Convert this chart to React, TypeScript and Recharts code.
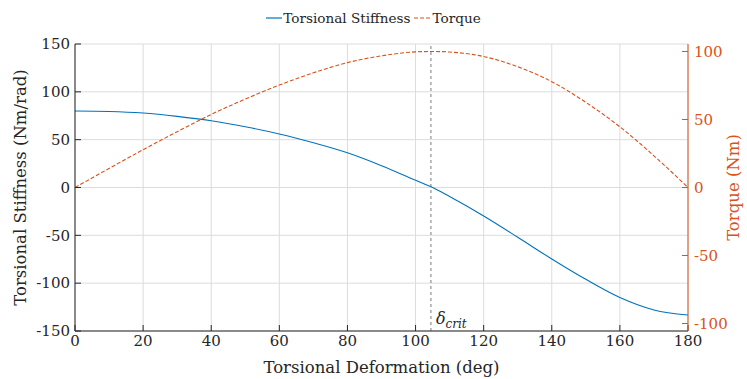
import React from 'react'
import { LineChart, Line, XAxis, YAxis, CartesianGrid, Legend, ReferenceLine } from 'recharts'

// deformation angle (deg)
const angles = [0, 10, 20, 30, 40, 50, 60, 70, 80, 90, 100, 105, 110, 120, 130, 140, 150, 160, 170, 180]
// torsional stiffness (Nm/rad)
const stiffness = [80, 79.5, 77.8, 74.3, 69.7, 63.5, 56, 46.8, 36.3, 22.8, 7.5, 0, -9.5, -29.8, -52, -74.7, -96, -115, -128, -133.3]
// torque (Nm)
const torque = [0, 14, 27.8, 41, 53.7, 65, 75.3, 84.3, 91.8, 96.8, 99.7, 100, 99.6, 96.3, 88.8, 77.8, 62.6, 44.6, 23.3, 0]
const critAngle = 104.5

const xTicks = [0, 20, 40, 60, 80, 100, 120, 140, 160, 180]
const leftTicks = [-150, -100, -50, 0, 50, 100, 150]
const rightTicks = [-100, -50, 0, 50, 100]

const BLUE = '#0072BD'
const ORANGE = '#D95319'
const DARK = '#262626'
const FONT = 'DejaVu Serif'

const data = angles.map((a, i) => ({ angle: a, stiffness: stiffness[i], torque: torque[i] }))

const renderLegend = () => (
  <div
    style={{
      display: 'flex',
      justifyContent: 'center',
      alignItems: 'center',
      fontFamily: FONT,
      fontSize: 13.6,
      color: DARK,
    }}
  >
    <svg width={17} height={10}>
      <line x1={0} y1={5} x2={16} y2={5} stroke={BLUE} strokeWidth={1.2} />
    </svg>
    <span style={{ marginRight: 3 }}>Torsional Stiffness</span>
    <svg width={19} height={10}>
      <line x1={0} y1={5} x2={18} y2={5} stroke={ORANGE} strokeWidth={1.2} strokeDasharray="4 2" />
    </svg>
    <span>Torque</span>
  </div>
)

const CritLabel = (props: any) => {
  const vb = props.viewBox
  return (
    <text x={vb.x + 5} y={vb.y + vb.height - 7} fontFamily={FONT} fontSize={16} fill={DARK} fontStyle="italic">
      δ
      <tspan dy={4} fontSize={12}>
        crit
      </tspan>
    </text>
  )
}

export default function App() {
  return (
    <div style={{ position: 'absolute', left: 0, top: 0, width: 747, height: 379, background: '#fff', fontFamily: FONT }}>
      <LineChart width={747} height={379} data={data} margin={{ top: 28, right: 0, bottom: 0, left: 0 }}>
        <CartesianGrid yAxisId="left" stroke="#dcdcdc" strokeWidth={1} />
        <XAxis
          dataKey="angle"
          type="number"
          domain={[0, 180]}
          ticks={xTicks}
          height={48}
          stroke={DARK}
          tickSize={-6}
          tickMargin={10}
          tick={{ fill: DARK, fontFamily: FONT, fontSize: 15 }}
          label={(p: any) => (
            <text
              x={p.viewBox.x + p.viewBox.width / 2}
              y={p.viewBox.y + 42}
              textAnchor="middle"
              fontFamily={FONT}
              fontSize={16.5}
              fill={DARK}
            >
              Torsional Deformation (deg)
            </text>
          )}
        />
        <YAxis
          yAxisId="left"
          type="number"
          domain={[-150, 150]}
          ticks={leftTicks}
          width={75}
          stroke={DARK}
          tickSize={-6}
          tickMargin={11}
          tick={{ fill: DARK, fontFamily: FONT, fontSize: 15 }}
          label={(p: any) => (
            <text
              x={p.viewBox.x + 26}
              y={p.viewBox.y + p.viewBox.height / 2}
              transform={`rotate(-90 ${p.viewBox.x + 26} ${p.viewBox.y + p.viewBox.height / 2})`}
              textAnchor="middle"
              fontFamily={FONT}
              fontSize={16.5}
              fill={DARK}
            >
              Torsional Stiffness (Nm/rad)
            </text>
          )}
        />
        <YAxis
          yAxisId="right"
          orientation="right"
          type="number"
          domain={[-105.5, 105.5]}
          ticks={rightTicks}
          width={59}
          stroke={ORANGE}
          tickSize={-6}
          tickMargin={12}
          tick={{ fill: ORANGE, fontFamily: FONT, fontSize: 15 }}
          label={(p: any) => (
            <text
              x={p.viewBox.x + 51}
              y={p.viewBox.y + p.viewBox.height / 2}
              transform={`rotate(-90 ${p.viewBox.x + 51} ${p.viewBox.y + p.viewBox.height / 2})`}
              textAnchor="middle"
              fontFamily={FONT}
              fontSize={16.5}
              fill={ORANGE}
            >
              Torque (Nm)
            </text>
          )}
        />
        <Legend verticalAlign="top" content={renderLegend} wrapperStyle={{ top: 10 }} />
        <ReferenceLine
          yAxisId="left"
          x={critAngle}
          stroke="#a6a6a6"
          strokeWidth={1.5}
          strokeDasharray="3 3"
          label={CritLabel}
        />
        <Line
          yAxisId="left"
          dataKey="stiffness"
          type="monotone"
          stroke={BLUE}
          strokeWidth={1.1}
          dot={false}
          isAnimationActive={false}
        />
        <Line
          yAxisId="right"
          dataKey="torque"
          type="monotone"
          stroke={ORANGE}
          strokeWidth={1.1}
          strokeDasharray="4 2"
          dot={false}
          isAnimationActive={false}
        />
      </LineChart>
    </div>
  )
}
